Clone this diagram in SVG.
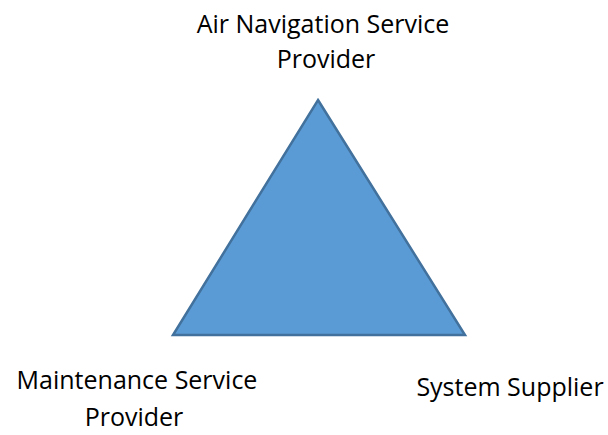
<svg xmlns="http://www.w3.org/2000/svg" width="608" height="435" viewBox="0 0 608 435">
<style>
.lbl{font-family:"Open Sans","Noto Sans",sans-serif;font-size:25px;fill:#000;text-anchor:middle}
.tri{fill:#5B9BD5;stroke:#41719C;stroke-width:2.5;stroke-linejoin:miter}
</style>
<rect width="608" height="435" fill="#fff"/>
<g id="triangle">
<polygon class="tri" points="318,100 465,335 173,335"/>
</g>
<g id="connectors"></g>
<g id="ansp">
<text class="lbl" x="323" y="33">Air Navigation Service</text>
<text class="lbl" x="326" y="68">Provider</text>
</g>
<g id="msp">
<text class="lbl" x="137" y="389">Maintenance Service</text>
<text class="lbl" x="134" y="426">Provider</text>
</g>
<g id="supplier">
<text class="lbl" x="510" y="396">System Supplier</text>
</g>
</svg>
